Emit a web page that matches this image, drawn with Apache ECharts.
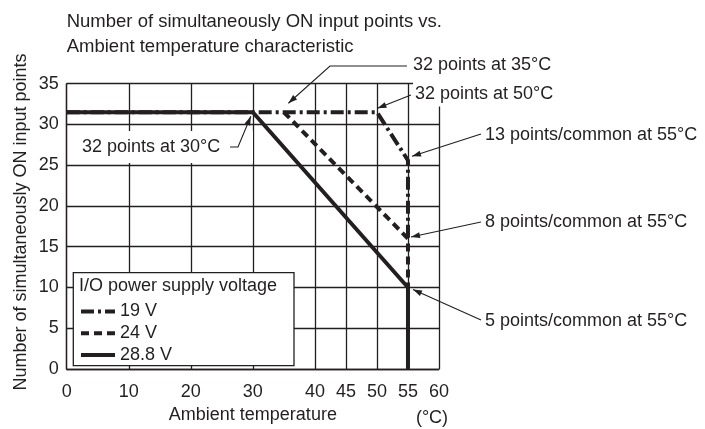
<!DOCTYPE html>
<html>
<head>
<meta charset="utf-8">
<script src="https://cdn.jsdelivr.net/npm/echarts@6/dist/echarts.min.js"></script>
<style>
  html, body { margin: 0; padding: 0; background: #fff; }
  #chart { width: 705px; height: 429px; }
</style>
</head>
<body>
<div id="chart"></div>
<script>
// axis ticks
const xTicks = [0, 10, 20, 30, 40, 45, 50, 55, 60]
const yTicks = [0, 5, 10, 15, 20, 25, 30, 35]

// derating curves [temperature, ON points]
const names = ['19 V', '24 V', '28.8 V']
const v19 = [[0, 31.5], [50, 31.5], [55, 25.6], [55, 16]]
const v24 = [[35, 31.5], [55, 16], [55, 10]]
const v288 = [[0, 31.5], [30, 31.5], [55, 10], [55, 0]]

// callouts: text + the curve point they point at
const noteTexts = ['32 points at 35°C', '32 points at 50°C', '13 points/common at 55°C',
    '8 points/common at 55°C', '5 points/common at 55°C', '32 points at 30°C']
const notePoints = [[35, 31.5], [50, 31.5], [55, 25.6], [55, 16], [55, 10], [30, 31.5]]

const ink = '#231f20'
const font = '"Liberation Sans", Arial, sans-serif'
const fs = 18

const chart = echarts.init(document.getElementById('chart'))

const lineSeries = (name, data, type, z) => ({
    name,
    type: 'line',
    data,
    symbol: 'none',
    z,
    clip: false,
    lineStyle: { color: ink, width: 4, type, cap: 'butt' },
    itemStyle: { color: ink }
})

chart.setOption({
    animation: false,
    textStyle: { fontFamily: font, color: ink },
    grid: { left: 66.7, top: 83.7, right: 266, bottom: 56.3 },
    xAxis: {
        type: 'value',
        min: 0,
        max: 60,
        interval: 5,
        axisLine: { lineStyle: { color: ink, width: 1.3 } },
        axisTick: { show: false, customValues: xTicks },
        axisLabel: { customValues: xTicks, fontSize: fs, color: ink, margin: 14, fontFamily: font },
        splitLine: { lineStyle: { color: ink, width: 1.3 } },
        name: 'Ambient temperature',
        nameLocation: 'middle',
        nameGap: 37,
        nameTextStyle: { fontSize: fs, color: ink, fontFamily: font }
    },
    yAxis: {
        type: 'value',
        min: 0,
        max: 35,
        interval: 5,
        axisLine: { show: true, lineStyle: { color: ink, width: 1.3 } },
        axisTick: { show: false },
        axisLabel: { fontSize: fs, color: ink, margin: 8, fontFamily: font },
        splitLine: { lineStyle: { color: ink, width: 1.3 } }
    },
    legend: {
        data: names,
        orient: 'vertical',
        left: 79,
        top: 301.5,
        padding: 0,
        itemWidth: 34,
        itemHeight: 14,
        itemGap: 1.7,
        itemTextGap: 2,
        selectedMode: false,
        z: 10,
        itemStyle: { opacity: 0 },
        lineStyle: { width: 4 },
        textStyle: { fontSize: fs, color: ink, fontFamily: font, lineHeight: 20 }
    },
    series: [
        lineSeries(names[0], v19, [13, 4, 3, 4], 2),
        lineSeries(names[1], v24, [8, 5], 3),
        lineSeries(names[2], v288, 'solid', 4)
    ]
})

// ---- annotations, placed after the axes exist ----
const px = p => chart.convertToPixel({ gridIndex: 0 }, p)

// label anchor, leader bends and tip nudge (pixels) for each callout
const noteLayout = [
    { at: [413, 65], via: [[407, 66], [330, 66]], nudge: [4.5, -9] },
    { at: [413, 94], via: [[411, 95]], nudge: [0.5, -4], cover: true },
    { at: [485, 135], via: [[481, 134]], nudge: [4, -4] },
    { at: [485, 222], via: [[481, 222]], nudge: [3, -1.5] },
    { at: [485, 321], via: [[481, 320]], nudge: [5, 2] },
    { at: [82, 147], via: [[230, 147], [238, 147]], nudge: [-2, 4], box: true }
]

const textEl = (text, x, y, extra) => Object.assign({
    type: 'text', x, y, z: 30,
    style: Object.assign({ text, fill: ink, fontSize: fs, fontFamily: font, align: 'left', verticalAlign: 'middle' }, extra || {})
})

const g = []

// title
g.push(textEl('Number of simultaneously ON input points vs.', 66.7, 21.7, { fontSize: 18.5 }))
g.push(textEl('Ambient temperature characteristic', 66.7, 46.7, { fontSize: 18.5 }))

// y axis name
g.push(Object.assign(textEl('Number of simultaneously ON input points', 21, 222, { align: 'center' }), { rotation: Math.PI / 2 }))
// unit
g.push(textEl('(°C)', 432, 418, { align: 'center' }))

// legend frame + heading
g.push({ type: 'rect', z: 5, shape: { x: 73.3, y: 272.7, width: 220.7, height: 93 }, style: { fill: '#fff', stroke: ink, lineWidth: 1.3 } })
g.push(textEl('I/O power supply voltage', 79, 286, { fontSize: fs }))

noteTexts.forEach((t, i) => {
    const L = noteLayout[i]
    const p = px(notePoints[i])
    const tip = [p[0] + L.nudge[0], p[1] + L.nudge[1]]
    if (L.box) {
        g.push({ type: 'rect', z: 6, shape: { x: 69, y: 131, width: 184, height: 32 }, style: { fill: '#fff' } })
    }
    const extra = L.cover ? { backgroundColor: '#fff', padding: [3, 4, 4, 2] } : {}
    g.push(textEl(t, L.at[0], L.at[1], extra))
    const pts = L.via.concat([tip])
    g.push({ type: 'polyline', z: 31, shape: { points: pts }, style: { stroke: ink, lineWidth: 1.1, fill: null } })
    // arrow head
    const prev = pts[pts.length - 2]
    let dx = tip[0] - prev[0], dy = tip[1] - prev[1]
    const len = Math.hypot(dx, dy)
    dx /= len; dy /= len
    const hl = 9, hw = 3
    const bx = tip[0] - dx * hl, by = tip[1] - dy * hl
    g.push({
        type: 'polygon', z: 31,
        shape: { points: [tip, [bx - dy * hw, by + dx * hw], [bx + dy * hw, by - dx * hw]] },
        style: { fill: ink }
    })
})

chart.setOption({ graphic: g })
</script>
</body>
</html>
